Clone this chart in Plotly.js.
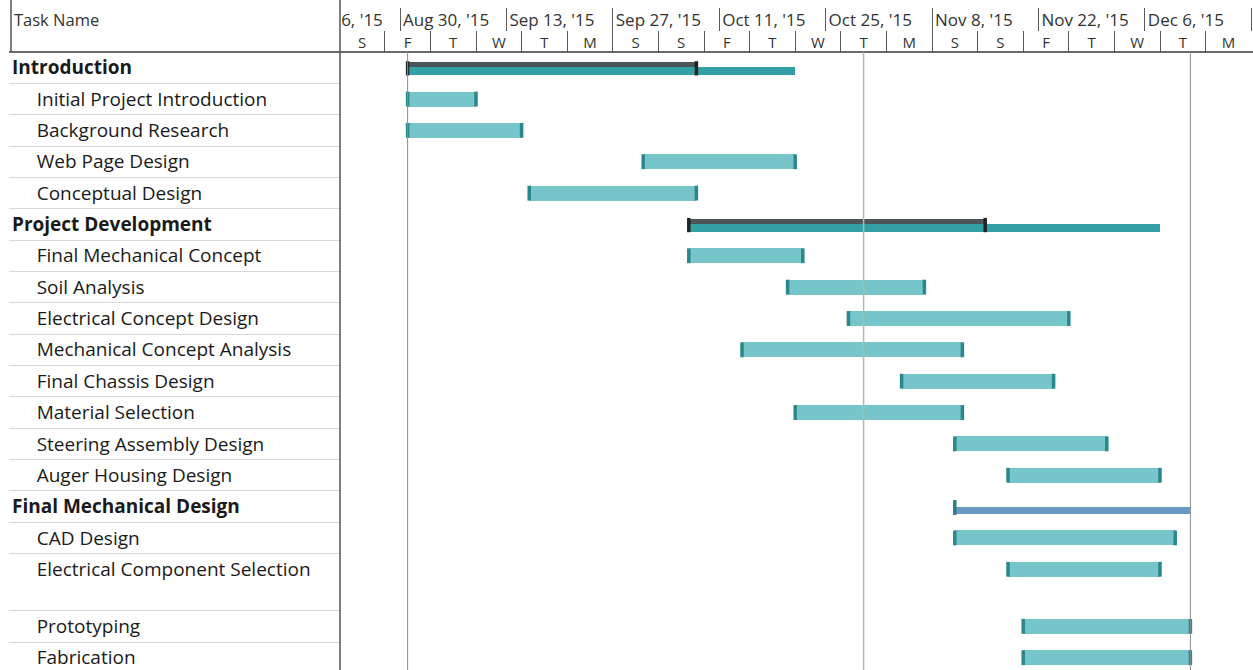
<!DOCTYPE html>
<html>
<head>
<meta charset="utf-8">
<script src="https://cdn.plot.ly/plotly-3.0.1.min.js"></script>
<style>html,body{margin:0;padding:0;background:#fff;}#chart{width:1253px;height:670px;}</style>
</head>
<body>
<div id="chart"></div>
<script>
// ---------------- data ----------------
const tasks = [
  "Introduction", "Initial Project Introduction", "Background Research", "Web Page Design", "Conceptual Design",
  "Project Development", "Final Mechanical Concept", "Soil Analysis", "Electrical Concept Design",
  "Mechanical Concept Analysis", "Final Chassis Design", "Material Selection", "Steering Assembly Design",
  "Auger Housing Design", "Final Mechanical Design", "CAD Design", "Electrical Component Selection",
  "Prototyping", "Fabrication"
];
const taskLevel = [0,1,1,1,1, 0,1,1,1,1,1,1,1,1, 0,1,1,1,1];
const barKind = ["summary","task","task","task","task",
  "summary","task","task","task","task","task","task","task","task",
  "manualSummary","task","task","task","task"];
const startDate = [
  "2015-08-31","2015-08-31","2015-08-31","2015-10-01","2015-09-16",
  "2015-10-07","2015-10-07","2015-10-20","2015-10-28","2015-10-14","2015-11-04","2015-10-21","2015-11-11","2015-11-18",
  "2015-11-11","2015-11-11","2015-11-18","2015-11-20","2015-11-20"
];
const finishDate = [
  "2015-10-21","2015-09-09","2015-09-15","2015-10-21","2015-10-08",
  "2015-12-08","2015-10-22","2015-11-07","2015-11-26","2015-11-12","2015-11-24","2015-11-12","2015-12-01","2015-12-08",
  "2015-12-12","2015-12-10","2015-12-08","2015-12-12","2015-12-12"
];
const progressDate = {"Introduction": "2015-10-08", "Project Development": "2015-11-15"};
const projectStart = "2015-08-31";
const statusDate = "2015-10-30";
const projectFinish = "2015-12-12";
const weekTick0 = "2015-08-16";
const dayTierStarts = ["2015-08-22","2015-08-28","2015-09-03","2015-09-09","2015-09-15","2015-09-21","2015-09-27",
  "2015-10-03","2015-10-09","2015-10-15","2015-10-21","2015-10-27","2015-11-02","2015-11-08","2015-11-14",
  "2015-11-20","2015-11-26","2015-12-02","2015-12-08","2015-12-14"];
const dayTierLabels = ["S","F","T","W","T","M","S","S","F","T","W","T","M","S","S","F","T","W","T","M"];
const viewRange = ["2015-08-22 05:41", "2015-12-20 05:41"];

// ---------------- layout constants ----------------
const W = 1253, H = 670;
const HEADER_PX = 52, TABLE_RIGHT = 341, TABLE_LEFT = 9, ROW_PX = 31.35, WEEK_TIER_LEFT = 250;
const ROW_SPAN = {"Electrical Component Selection": 1.82};
const DAY = 86400000;
const FONT = "Open Sans, Noto Sans, sans-serif";
const px = v => v / W;
const py = v => 1 - v / H;
const toMs = s => new Date(s.replace(" ", "T") + (s.length > 10 ? ":00Z" : "T00:00:00Z")).getTime();

// row positions
const rowPos = []; const rowBounds = [];
let cur = 0;
tasks.forEach(t => { rowPos.push(cur); const span = ROW_SPAN[t] || 1; rowBounds.push(cur - 0.5 + span); cur += span; });
const yRange = [-0.5 + (H - HEADER_PX) / ROW_PX, -0.5];

const idx = k => tasks.map((t, i) => i).filter(i => barKind[i] === k);
const tIdx = idx("task"), sIdx = idx("summary"), mIdx = idx("manualSummary");
const dur = i => toMs(finishDate[i]) - toMs(startDate[i]);

const traces = [];
// normal task bars
traces.push({type: "bar", orientation: "h", xaxis: "x", yaxis: "y",
  y: tIdx.map(i => rowPos[i]), base: tIdx.map(i => startDate[i]), x: tIdx.map(dur),
  width: 0.48, marker: {color: "#76c5cb", line: {width: 0}}, hoverinfo: "skip", showlegend: false});
// summary full-duration bars
traces.push({type: "bar", orientation: "h", xaxis: "x", yaxis: "y",
  y: sIdx.map(i => rowPos[i]), base: sIdx.map(i => startDate[i]), x: sIdx.map(dur),
  width: 0.26, offset: -0.02, marker: {color: "#33a0a5", line: {width: 0}}, hoverinfo: "skip", showlegend: false});
// summary progress bars
traces.push({type: "bar", orientation: "h", xaxis: "x", yaxis: "y",
  y: sIdx.map(i => rowPos[i]), base: sIdx.map(i => startDate[i]),
  x: sIdx.map(i => toMs(progressDate[tasks[i]]) - toMs(startDate[i])),
  width: 0.16, offset: -0.185, marker: {color: "#4a5659", line: {width: 0}}, hoverinfo: "skip", showlegend: false});
// manual summary bar
traces.push({type: "bar", orientation: "h", xaxis: "x", yaxis: "y",
  y: mIdx.map(i => rowPos[i]), base: mIdx.map(i => startDate[i]), x: mIdx.map(dur),
  width: 0.25, offset: 0, marker: {color: "#6899c4", line: {width: 0}}, hoverinfo: "skip", showlegend: false});
// task end caps
traces.push({type: "scatter", mode: "markers", xaxis: "x", yaxis: "y",
  x: tIdx.map(i => startDate[i]).concat(tIdx.map(i => finishDate[i])),
  y: tIdx.map(i => rowPos[i]).concat(tIdx.map(i => rowPos[i])),
  marker: {symbol: "line-ns", size: 10.6, line: {width: 3.5, color: "#2a878c"}},
  hoverinfo: "skip", showlegend: false, cliponaxis: false});
// summary caps
traces.push({type: "scatter", mode: "markers", xaxis: "x", yaxis: "y",
  x: sIdx.map(i => startDate[i]).concat(sIdx.map(i => progressDate[tasks[i]])),
  y: sIdx.map(i => rowPos[i] + 0.02).concat(sIdx.map(i => rowPos[i] + 0.02)),
  marker: {symbol: "line-ns", size: 10.2, line: {width: 3.5, color: "#1f2426"}},
  hoverinfo: "skip", showlegend: false, cliponaxis: false});
// manual summary bracket
traces.push({type: "scatter", mode: "markers", xaxis: "x", yaxis: "y",
  x: mIdx.map(i => startDate[i]), y: mIdx.map(i => rowPos[i] + 0.03),
  marker: {symbol: "line-ns", size: 10.6, line: {width: 3.5, color: "#2a7f86"}},
  hoverinfo: "skip", showlegend: false, cliponaxis: false});
// carrier traces so the table and timescale subplots exist (draw nothing)
traces.push({type: "scatter", mode: "markers", xaxis: "x5", yaxis: "y5",
  x: rowPos.map(() => 0.5), y: rowPos, marker: {opacity: 0, size: 1}, hoverinfo: "skip", showlegend: false});
traces.push({type: "scatter", mode: "markers", xaxis: "x3", yaxis: "y3",
  x: dayTierStarts, y: dayTierStarts.map(() => 0.5), marker: {opacity: 0, size: 1}, hoverinfo: "skip", showlegend: false});
traces.push({type: "scatter", mode: "markers", xaxis: "x4", yaxis: "y4",
  x: dayTierStarts, y: dayTierStarts.map(() => 0.5), marker: {opacity: 0, size: 1}, hoverinfo: "skip", showlegend: false});

// extended range for the top (week) tier so the clipped first label shows
const r0 = toMs(viewRange[0]), r1 = toMs(viewRange[1]);
const fullLeft = r0 - (r1 - r0) * (TABLE_RIGHT - WEEK_TIER_LEFT) / (W - TABLE_RIGHT);

const NB = "\u00a0";
const labels = tasks.map((t, i) => taskLevel[i] === 0 ? "<b>" + t + "</b>" : NB.repeat(5) + t);

const layout = {
  width: W, height: H, margin: {l: 0, r: 0, t: 0, b: 0},
  paper_bgcolor: "#ffffff", plot_bgcolor: "rgba(0,0,0,0)",
  showlegend: false, hovermode: false, barmode: "overlay", bargap: 0,
  font: {family: FONT, color: "#222"},
  xaxis: {type: "date", domain: [px(TABLE_RIGHT), 1], range: viewRange, anchor: "y",
    showgrid: false, showticklabels: false, ticks: "", zeroline: false, showline: false},
  yaxis: {domain: [0, py(HEADER_PX)], range: yRange, anchor: "x",
    showgrid: false, showticklabels: false, ticks: "", zeroline: false, showline: false},
  // task table
  xaxis5: {domain: [px(TABLE_LEFT), px(TABLE_RIGHT)], range: [0, 1], anchor: "y5",
    showgrid: false, showticklabels: false, ticks: "", zeroline: false, showline: false},
  yaxis5: {domain: [0, py(HEADER_PX)], range: yRange, anchor: "x5", side: "left",
    tickmode: "array", tickvals: rowPos, ticktext: labels, ticklabelposition: "inside",
    ticklabeloverflow: "allow",
    tickfont: {family: FONT, size: 19, color: "#1a1a1a"}, ticks: "", showgrid: false,
    zeroline: false, showline: false,
    minor: {tickmode: "array", tickvals: rowBounds, showgrid: true, gridcolor: "#d8d8d8", gridwidth: 1, ticks: ""}},
  // bottom tier (day letters)
  xaxis3: {type: "date", domain: [px(TABLE_RIGHT), 1], range: viewRange, anchor: "y3",
    tickmode: "array", tickvals: dayTierStarts.map(s => toMs(s) + 3 * DAY), ticktext: dayTierLabels,
    ticklabelposition: "inside", ticklabeloverflow: "allow", ticklabelstandoff: -2,
    ticks: "", showgrid: false, zeroline: false, showline: false,
    tickfont: {family: FONT, size: 15, color: "#333"},
    minor: {tickmode: "array", tickvals: dayTierStarts, showgrid: true, gridcolor: "#5a5a5a", gridwidth: 1, ticks: ""}},
  yaxis3: {domain: [py(HEADER_PX), py(31)], range: [0, 1], anchor: "x3",
    showgrid: false, showticklabels: false, ticks: "", zeroline: false, showline: false},
  // top tier (weeks)
  xaxis4: {type: "date", domain: [px(WEEK_TIER_LEFT), 1], range: [fullLeft, r1], anchor: "y4",
    tick0: weekTick0, dtick: 14 * DAY, tickformat: "%b %-d, '%y", ticklabelshift: 3, ticklabelstandoff: -4,
    ticklabelposition: "inside right", ticks: "", showgrid: true, gridcolor: "#5a5a5a", gridwidth: 1,
    zeroline: false, showline: false, tickfont: {family: FONT, size: 17, color: "#333"}},
  yaxis4: {domain: [py(31), py(8)], range: [0, 1], anchor: "x4",
    showgrid: false, showticklabels: false, ticks: "", zeroline: false, showline: false},
  shapes: [
    // cover week tier left of the timeline
    {type: "rect", xref: "paper", yref: "paper", x0: 0, x1: px(TABLE_RIGHT), y0: py(HEADER_PX), y1: 1,
      fillcolor: "#ffffff", line: {width: 0}, layer: "above"},
    // header bottom line
    {type: "line", xref: "paper", yref: "paper", x0: px(TABLE_LEFT), x1: 1, y0: py(HEADER_PX), y1: py(HEADER_PX),
      line: {color: "#3a3a3a", width: 1.5}, layer: "above"},
    // table borders
    {type: "line", xref: "paper", yref: "paper", x0: px(TABLE_RIGHT - 1), x1: px(TABLE_RIGHT - 1), y0: 0, y1: 1,
      line: {color: "#555", width: 1.5}, layer: "above"},
    {type: "line", xref: "paper", yref: "paper", x0: px(11), x1: px(11), y0: py(HEADER_PX), y1: 1,
      line: {color: "#555", width: 1.5}, layer: "above"},
    // project start / status / finish lines
    {type: "line", xref: "x", yref: "y domain", x0: projectStart, x1: projectStart, y0: 0, y1: 1,
      line: {color: "#8c8c8c", width: 1}, layer: "above"},
    {type: "line", xref: "x", yref: "y domain", x0: statusDate, x1: statusDate, y0: 0, y1: 1,
      line: {color: "#a9bca4", width: 1.5}, layer: "above"},
    {type: "line", xref: "x", yref: "y domain", x0: projectFinish, x1: projectFinish, y0: 0, y1: 1,
      line: {color: "#8c8c8c", width: 1}, layer: "above"}
  ],
  annotations: [
    {text: "Task Name", xref: "paper", yref: "paper", x: px(12), y: py(19), xanchor: "left", yanchor: "middle",
      showarrow: false, font: {family: FONT, size: 16.5, color: "#333"}}
  ]
};

Plotly.newPlot("chart", traces, layout, {staticPlot: true, displayModeBar: false});
</script>
</body>
</html>
